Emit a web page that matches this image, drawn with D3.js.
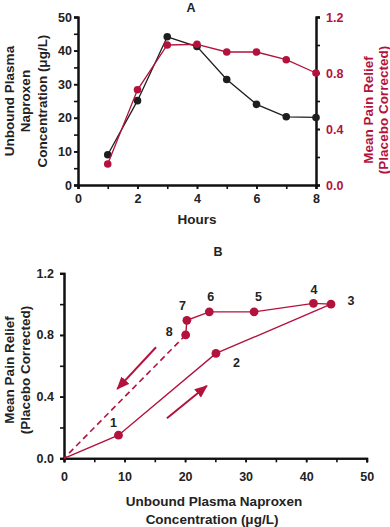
<!DOCTYPE html>
<html><head><meta charset="utf-8">
<script src="https://cdn.jsdelivr.net/npm/d3@7"></script>
<style>
body{margin:0;background:#fff;}
svg{display:block;font-family:"Liberation Sans",Arial,Helvetica,sans-serif;font-weight:bold;}
</style></head><body>
<svg id="c" width="390" height="527"></svg>
<script>
// ---- data ----
const hours = [1,2,3,4,5,6,7,8];
const concentration = [9.0,25.1,44.1,41.2,31.4,24.0,20.3,20.1];
const painRelief = [0.15,0.68,1.0,1.005,0.95,0.95,0.895,0.80];
const pointLabels = ["1","2","3","4","5","6","7","8"];
const hourTicks = [0,2,4,6,8];
const concTicksA = [0,10,20,30,40,50];
const reliefTicks = [0.0,0.4,0.8,1.2];
const concTicksB = [0,10,20,30,40,50];
// annotation arrows in panel B (data coords: [x1,y1,x2,y2])
const arrows = [[17.0,0.26,23.6,0.47],[15.2,0.72,8.8,0.45]];

const RED = "#b3123d", BLK = "#1e1e1e", TXT = "#222";
const svg = d3.select("#c");

// ---- Panel A ----
const xA = d3.scaleLinear().domain([0,8]).range([78,316]);
const yL = d3.scaleLinear().domain([0,50]).range([185,17]);
const yR = d3.scaleLinear().domain([0,1.2]).range([185,17]);

function styleAxis(g, color){
  g.selectAll("path.domain").attr("stroke","#111").attr("stroke-width",2);
  g.selectAll(".tick line").attr("stroke","#111").attr("stroke-width",1.6);
  g.selectAll(".tick text").attr("fill",color).attr("font-size","12.5px").attr("font-family","Liberation Sans,Arial,sans-serif").attr("font-weight","bold");
}

const gA = svg.append("g");
gA.append("g").attr("transform","translate(0,185)")
  .call(d3.axisBottom(xA).tickValues(d3.range(0,9,1)).tickSize(4).tickFormat(""))
  .call(g=>styleAxis(g,TXT));
gA.append("g").attr("transform","translate(0,185)")
  .call(d3.axisBottom(xA).tickValues(hourTicks).tickSize(4).tickPadding(5).tickFormat(d3.format("d")))
  .call(g=>styleAxis(g,TXT));
gA.append("g").attr("transform","translate(78,0)")
  .call(d3.axisLeft(yL).tickValues(d3.range(0,51,5)).tickSize(4).tickFormat(""))
  .call(g=>styleAxis(g,TXT));
gA.append("g").attr("transform","translate(78,0)")
  .call(d3.axisLeft(yL).tickValues(concTicksA).tickSize(4).tickPadding(2).tickFormat(d3.format("d")))
  .call(g=>styleAxis(g,TXT));
gA.append("g").attr("transform","translate(316,0)")
  .call(d3.axisRight(yR).tickValues(d3.range(0,1.21,0.2)).tickSize(4).tickFormat(""))
  .call(g=>styleAxis(g,RED));
gA.append("g").attr("transform","translate(316,0)")
  .call(d3.axisRight(yR).tickValues(reliefTicks).tickSize(4).tickPadding(6).tickFormat(d3.format(".1f")))
  .call(g=>styleAxis(g,RED));

const lineA1 = d3.line().x((d,i)=>xA(hours[i])).y(d=>yL(d));
const lineA2 = d3.line().x((d,i)=>xA(hours[i])).y(d=>yR(d));
gA.append("path").attr("d",lineA1(concentration)).attr("fill","none").attr("stroke",BLK).attr("stroke-width",1.3);
gA.selectAll("circle.k").data(concentration).join("circle").attr("class","k")
  .attr("cx",(d,i)=>xA(hours[i])).attr("cy",d=>yL(d)).attr("r",3.8).attr("fill",BLK);
gA.append("path").attr("d",lineA2(painRelief)).attr("fill","none").attr("stroke",RED).attr("stroke-width",1.3);
gA.selectAll("circle.r").data(painRelief).join("circle").attr("class","r")
  .attr("cx",(d,i)=>xA(hours[i])).attr("cy",d=>yR(d)).attr("r",3.8).attr("fill",RED);

gA.append("text").attr("x",191).attr("y",12).attr("text-anchor","middle").attr("font-size","12.5px").attr("fill",TXT).text("A");
gA.append("text").attr("x",197).attr("y",224).attr("text-anchor","middle").attr("font-size","13.5px").attr("fill",TXT).text("Hours");
const tl = gA.append("text").attr("transform","translate(0,101) rotate(-90)").attr("text-anchor","middle").attr("font-size","13.5px").attr("fill",TXT);
[["Unbound Plasma",14],["Naproxen",30],["Concentration (μg/L)",47]].forEach(([t,x])=>tl.append("tspan").attr("x",0).attr("y",x).text(t));
const tr = gA.append("text").attr("transform","translate(0,110) rotate(-90)").attr("text-anchor","middle").attr("font-size","13.5px").attr("fill",RED);
[["Mean Pain Relief",373],["(Placebo Corrected)",388]].forEach(([t,x])=>tr.append("tspan").attr("x",0).attr("y",x).text(t));

// ---- Panel B ----
const xB = d3.scaleLinear().domain([0,50]).range([64,366.7]);
const yB = d3.scaleLinear().domain([0,1.2]).range([458.3,273.3]);
const gB = svg.append("g");
gB.append("g").attr("transform","translate(0,458.3)")
  .call(d3.axisBottom(xB).tickValues(d3.range(0,51,5)).tickSize(4).tickFormat(""))
  .call(g=>styleAxis(g,TXT));
gB.append("g").attr("transform","translate(0,458.3)")
  .call(d3.axisBottom(xB).tickValues(concTicksB).tickSize(4).tickPadding(10).tickFormat(d3.format("d")))
  .call(g=>styleAxis(g,TXT));
gB.append("g").attr("transform","translate(64,0)")
  .call(d3.axisLeft(yB).tickValues(d3.range(0,1.21,0.2)).tickSize(4).tickFormat(""))
  .call(g=>styleAxis(g,TXT));
gB.append("g").attr("transform","translate(64,0)")
  .call(d3.axisLeft(yB).tickValues(reliefTicks).tickSize(4).tickPadding(6).tickFormat(d3.format(".1f")))
  .call(g=>styleAxis(g,TXT));

const pts = concentration.map((c,i)=>[c,painRelief[i]]);
const lineB = d3.line().x(d=>xB(d[0])).y(d=>yB(d[1]));
gB.append("path").attr("d",lineB([[0,0],...pts])).attr("fill","none").attr("stroke",RED).attr("stroke-width",1.4);
gB.append("path").attr("d",lineB([pts[pts.length-1],[0,0]])).attr("fill","none").attr("stroke",RED).attr("stroke-width",1.6).attr("stroke-dasharray","6,4");
gB.selectAll("circle").data(pts).join("circle")
  .attr("cx",d=>xB(d[0])).attr("cy",d=>yB(d[1])).attr("r",4.4).attr("fill",RED);

// label offsets (pixels) relative to each point
const labOff = [[-5,-12.5],[20.5,9],[20,-3.5],[0.5,-13.5],[4.5,-15],[1.5,-15],[-4.5,-14.5],[-16.5,-3.5]];
gB.selectAll("text.pl").data(pts).join("text").attr("class","pl")
  .attr("x",(d,i)=>xB(d[0])+labOff[i][0]).attr("y",(d,i)=>yB(d[1])+labOff[i][1]+4.5)
  .attr("text-anchor","middle").attr("font-size","12.5px").attr("fill",TXT).text((d,i)=>pointLabels[i]);

svg.append("defs").append("marker").attr("id","ah").attr("viewBox","0 0 12 10").attr("refX",11).attr("refY",5)
  .attr("markerWidth",13).attr("markerHeight",11).attr("markerUnits","userSpaceOnUse").attr("orient","auto")
  .append("path").attr("d","M0,0L12,5L0,10Z").attr("fill",RED);
gB.selectAll("line.ar").data(arrows).join("line").attr("class","ar")
  .attr("x1",d=>xB(d[0])).attr("y1",d=>yB(d[1])).attr("x2",d=>xB(d[2])).attr("y2",d=>yB(d[3]))
  .attr("stroke",RED).attr("stroke-width",2).attr("marker-end","url(#ah)");

gB.append("text").attr("x",218).attr("y",256).attr("text-anchor","middle").attr("font-size","12.5px").attr("fill",TXT).text("B");
const bx = gB.append("text").attr("text-anchor","middle").attr("font-size","13.5px").attr("fill",TXT);
bx.append("tspan").attr("x",214).attr("y",506).text("Unbound Plasma Naproxen");
bx.append("tspan").attr("x",212).attr("y",524).text("Concentration (μg/L)");
const by = gB.append("text").attr("transform","translate(0,370) rotate(-90)").attr("text-anchor","middle").attr("font-size","13.5px").attr("fill",TXT);
[["Mean Pain Relief",14],["(Placebo Corrected)",30]].forEach(([t,x])=>by.append("tspan").attr("x",0).attr("y",x).text(t));
</script></body></html>
